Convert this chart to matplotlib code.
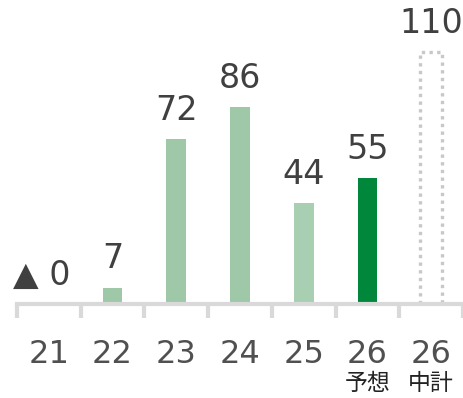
import matplotlib
matplotlib.use('Agg')
import matplotlib.pyplot as plt

# データ
years = ['21', '22', '23', '24', '25', '26', '26']
sub_labels = ['', '', '', '', '', '予想', '中計']
values = [0, 7, 72, 86, 44, 55, 110]
value_texts = ['▲ 0', '7', '72', '86', '44', '55', '110']
bar_colors = ['#9fc8a8', '#9fc8a8', '#9fc8a8', '#9fc8a8', '#a9cfb3', '#00873c', 'none']

plt.rcParams['font.family'] = ['DejaVu Sans', 'Noto Sans CJK JP']

fig = plt.figure(figsize=(4.64, 3.98), dpi=100)
ax = fig.add_axes([17 / 464, 94 / 398, 446 / 464, 276 / 398])

x = list(range(len(years)))
bar_w = 0.31

# 実績・予想
ax.bar(x[:-1], values[:-1], width=bar_w, color=bar_colors[:-1], zorder=2)

# 中計 (点線の枠)
ax.bar(x[-1], values[-1], width=0.34, color='none', edgecolor='#c8c8c8',
       linewidth=2.4, linestyle=(0, (1, 1.3)), zorder=2)

# 数値ラベル
for i, (v, t) in enumerate(zip(values, value_texts)):
    dx = -5 if v == 0 else 0
    ax.annotate(t, xy=(i, v), xytext=(dx, 9), textcoords='offset points',
                ha='center', va='bottom', fontsize=24, color='#404040')

ax.set_xlim(-0.5, len(years) - 0.5)
ax.set_ylim(0, 120.5)

# 軸
for s in ['top', 'right', 'left']:
    ax.spines[s].set_visible(False)
ax.spines['bottom'].set_color('#d9d9d9')
ax.spines['bottom'].set_linewidth(3)
ax.set_yticks([])

ax.set_xticks(x)
ax.set_xticklabels(years, fontsize=23, color='#505050')
ax.tick_params(axis='x', which='major', length=0, pad=25)
ax.set_xticks([i - 0.5 for i in range(len(years) + 1)], minor=True)
ax.tick_params(axis='x', which='minor', length=10, width=3, color='#d9d9d9')

# 予想・中計
for i, s in enumerate(sub_labels):
    if s:
        ax.annotate(s, xy=(i, 0), xycoords=('data', 'axes fraction'),
                    xytext=(0, -49), textcoords='offset points',
                    ha='center', va='top', fontsize=16.5, color='#222222',
                    family=['Noto Sans CJK JP'])

fig.savefig('out.png', dpi=100)
